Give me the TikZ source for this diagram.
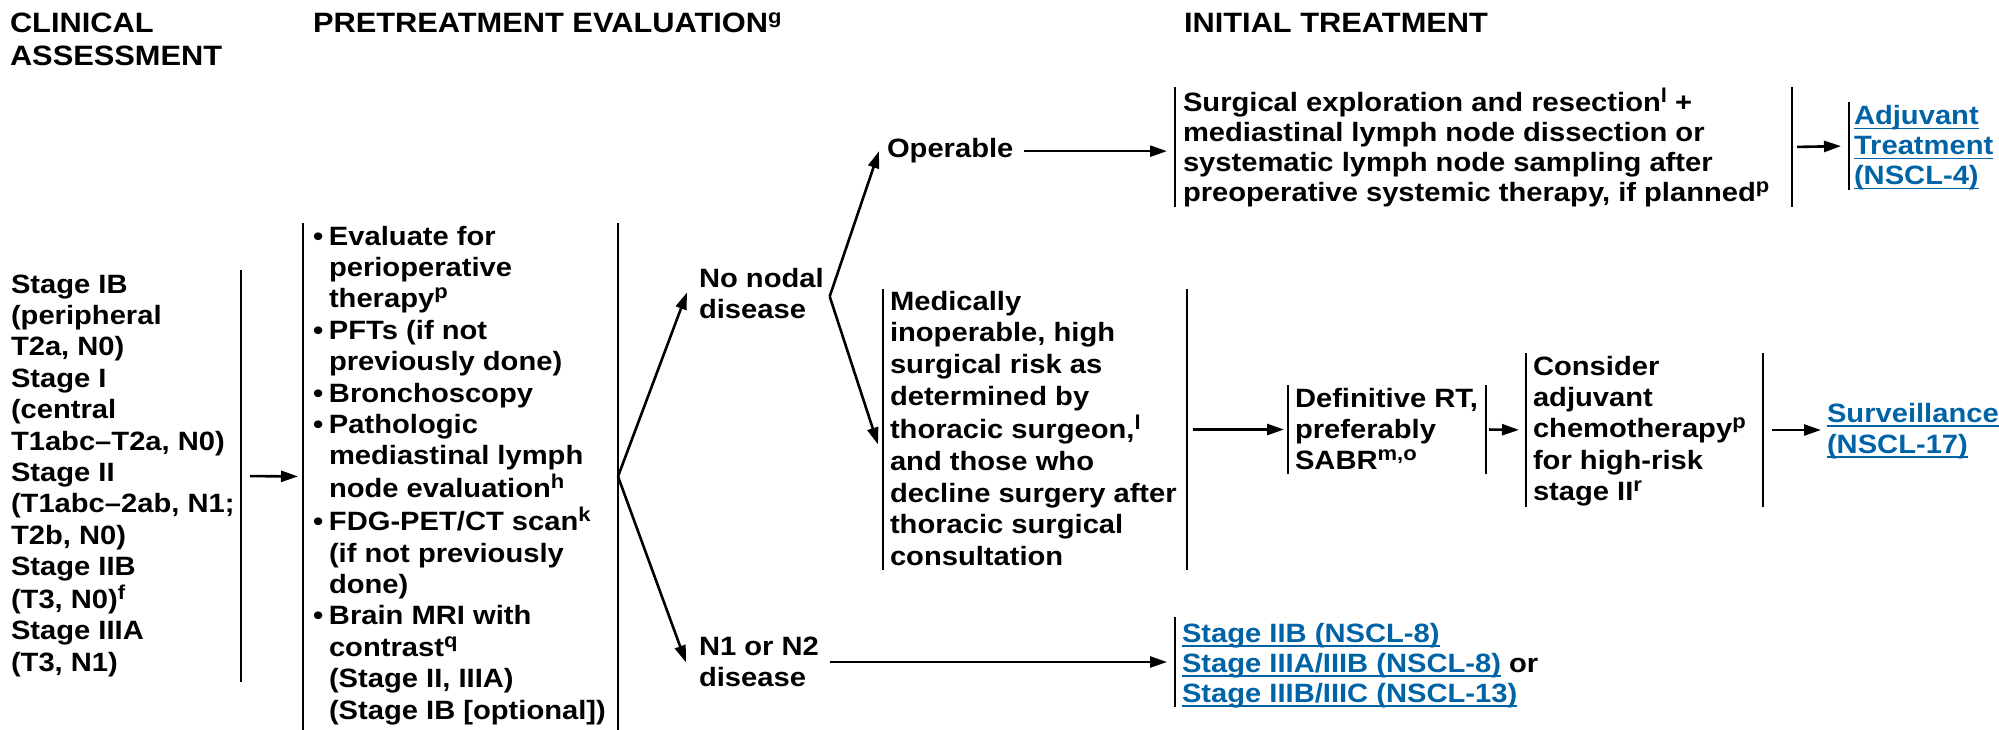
\documentclass[tikz,border=0pt]{standalone}
\usepackage{fontspec}
\setmainfont{Liberation Sans}[FakeStretch=1.1]
\usetikzlibrary{arrows.meta}
\definecolor{linkblue}{RGB}{0,99,166}
\newcommand\txtsize{\fontsize{26.5}{31.4}\selectfont\bfseries}
\newcommand\tightsize{\fontsize{26.5}{30}\selectfont\bfseries}
\newcommand\headsize{\fontsize{28}{32}\selectfont\bfseries}
\newcommand\sps[1]{\raisebox{9pt}{\fontsize{20}{20}\selectfont #1}}
\newcommand\lnk[1]{{\color{linkblue}\setbox0\hbox{#1}\rlap{\rule[-4.5pt]{\wd0}{1.8pt}}\box0}}
\newcommand\bu{\makebox[16pt][l]{•}}
\newcommand\ind{\hspace*{16pt}}
\newcommand\lines[1]{\begin{tabular}[t]{@{}l@{}}#1\end{tabular}}
\begin{document}
\begin{tikzpicture}[x=1pt,y=-1pt,
  txt/.style={inner sep=0pt, outer sep=0pt, anchor=base west, font=\txtsize},
  head/.style={inner sep=0pt, outer sep=0pt, anchor=base west, font=\headsize},
  box/.style={draw=none, inner sep=0pt, outer sep=0pt, anchor=north west, shape=rectangle},
  bar/.style={line width=2pt},
  arr/.style={line width=2.6pt, -{Triangle[length=17pt,width=11pt]}}]
\useasboundingbox (0,0) rectangle (1999,730);

% column headings
\node[head] (hclin) at (10,33) {\lines{CLINICAL\\[0.6pt]ASSESSMENT}};
\node[head] (heval) at (313,33) {PRETREATMENT EVALUATION\sps{g}};
\node[head] (hinit) at (1184,33) {INITIAL TREATMENT};

% clinical assessment
\node[txt] (stages) at (11,293) {\lines{Stage IB\\(peripheral\\T2a, N0)\\Stage I\\(central\\T1abc–T2a, N0)\\Stage II\\(T1abc–2ab, N1;\\T2b, N0)\\Stage IIB\\(T3, N0)\sps{f}\\Stage IIIA\\(T3, N1)}};
\node[box, minimum width=0pt, minimum height=412pt] (lbar) at (241,270) {};
\draw[bar] (lbar.north) -- (lbar.south);

% pretreatment evaluation
\node[box, minimum width=315pt, minimum height=507pt] (eval) at (303,223) {};
\draw[bar] (eval.north west) -- (eval.south west) (eval.north east) -- (eval.south east);
\node[txt] (evaltxt) at (313,245) {\lines{\bu Evaluate for\\
\ind perioperative\\
\ind therapy\sps{p}\\
\bu PFTs (if not\\
\ind previously done)\\
\bu Bronchoscopy\\
\bu Pathologic\\
\ind mediastinal lymph\\
\ind node evaluation\sps{h}\\
\bu FDG-PET/CT scan\sps{k}\\
\ind (if not previously\\
\ind done)\\
\bu Brain MRI with\\
\ind contrast\sps{q}\\
\ind (Stage II, IIIA)\\
\ind (Stage IB [optional])}};

% nodal status
\node[txt] (nonodal) at (699,287) {\lines{No nodal\\disease}};
\node[txt] (n1) at (699,655) {\lines{N1 or N2\\disease}};
\coordinate (nv) at ([xshift=6pt]nonodal.east);

% operable branch
\node[txt] (operable) at (887,158) {Operable};
\node[box, minimum width=617pt, minimum height=120pt] (surg) at (1175,87) {};
\draw[bar] (surg.north west) -- (surg.south west) (surg.north east) -- (surg.south east);
\node[txt, font=\tightsize] (surgtxt) at (1183,112) {\lines{Surgical exploration and resection\sps{l} +\\mediastinal lymph node dissection or\\systematic lymph node sampling after\\preoperative systemic therapy, if planned\sps{p}}};
\node[box, minimum width=0pt, minimum height=88pt] (adj) at (1849,102) {};
\draw[bar] (adj.north) -- (adj.south);
\node[txt, font=\tightsize] (adjtxt) at (1854,125) {\lines{\lnk{Adjuvant}\\\lnk{Treatment}\\\lnk{(NSCL-4)}}};

% inoperable branch
\node[box, minimum width=304pt, minimum height=281pt] (med) at (883,289) {};
\draw[bar] (med.north west) -- (med.south west) (med.north east) -- (med.south east);
\node[txt, font={\fontsize{26.5}{31.8}\selectfont\bfseries}] (medtxt) at (890,310) {\lines{Medically\\inoperable, high\\surgical risk as\\determined by\\thoracic surgeon,\sps{l}\\and those who\\decline surgery after\\thoracic surgical\\consultation}};
\node[box, minimum width=198pt, minimum height=89pt] (defin) at (1288,385) {};
\draw[bar] (defin.north west) -- (defin.south west) (defin.north east) -- (defin.south east);
\node[txt] (defintxt) at (1295,407) {\lines{Definitive RT,\\preferably\\SABR\sps{m,o}}};
\node[box, minimum width=237pt, minimum height=154pt] (cons) at (1526,353) {};
\draw[bar] (cons.north west) -- (cons.south west) (cons.north east) -- (cons.south east);
\node[txt] (constxt) at (1533,375) {\lines{Consider\\adjuvant\\chemotherapy\sps{p}\\for high-risk\\stage II\sps{r}}};
\node[txt] (surv) at (1827,422) {\lines{\lnk{Surveillance}\\\lnk{(NSCL-17)}}};

% N1/N2 branch
\node[box, minimum width=0pt, minimum height=90pt] (links) at (1175,617) {};
\draw[bar] (links.north) -- (links.south);
\node[txt, font=\tightsize] (linkstxt) at (1182,642) {\lines{\lnk{Stage IIB (NSCL-8)}\\\lnk{Stage IIIA/IIIB (NSCL-8)} or\\\lnk{Stage IIIB/IIIC (NSCL-13)}}};

% connectors
\draw[arr, shorten <=9pt, shorten >=5pt] (lbar.east) -- (eval.west);
\draw[arr] (eval.east) -- ([xshift=-12pt,yshift=4pt]nonodal.west);
\draw[arr] (eval.east) -- ([xshift=-13pt,yshift=2pt]n1.west);
\draw[arr] (nv) -- ([xshift=-8pt]operable.west);
\draw[arr] (nv) -- ([xshift=-5pt,yshift=-15pt]med.west);
\draw[arr, shorten <=11pt, shorten >=8pt] (operable.east) -- (operable.east -| surg.west);
\draw[arr, shorten <=5pt, shorten >=8pt] (surg.east) -- (adj.west);
\draw[arr, shorten <=6pt, shorten >=4pt] (med.east) -- (defin.west);
\draw[arr, shorten <=3pt, shorten >=7pt] (defin.east) -- (cons.west);
\draw[arr, shorten <=9pt, shorten >=6pt] (cons.east) -- (cons.east -| surv.west);
\draw[arr, shorten <=11pt, shorten >=8pt] (links.west -| n1.east) -- (links.west);
\end{tikzpicture}
\end{document}
